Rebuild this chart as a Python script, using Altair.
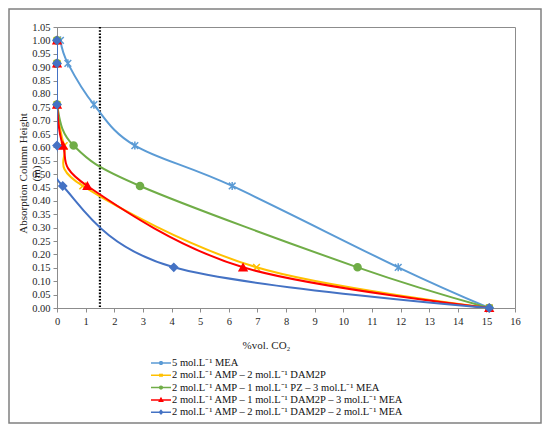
import altair as alt
import pandas as pd

# ---- data ----
names = [
    "5 mol.L⁻¹ MEA",
    "2 mol.L⁻¹ AMP – 2 mol.L⁻¹ DAM2P",
    "2 mol.L⁻¹ AMP – 1 mol.L⁻¹ PZ – 3 mol.L⁻¹ MEA",
    "2 mol.L⁻¹ AMP – 1 mol.L⁻¹ DAM2P – 3 mol.L⁻¹ MEA",
    "2 mol.L⁻¹ AMP – 2 mol.L⁻¹ DAM2P – 2 mol.L⁻¹ MEA",
]
heights = [1.0, 0.914, 0.76, 0.607, 0.456, 0.152, 0.0]
co2_mea = [0.12, 0.38, 1.29, 2.72, 6.12, 11.92, 15.1]
co2_amp_dam2p = [0.0, 0.0, 0.0, 0.25, 0.9, 6.97, 15.1]
co2_amp_pz_mea = [0.0, 0.0, 0.0, 0.58, 2.9, 10.5, 15.1]
co2_amp_dam2p_3mea = [0.0, 0.0, 0.0, 0.21, 1.06, 6.5, 15.1]
co2_amp_dam2p_2mea = [0.0, 0.0, 0.0, 0.0, 0.2, 4.08, 15.1]
threshold = [1.5]
x_ticks = list(range(0, 17))
y_ticks = [round(i * 0.05, 2) for i in range(22)]

series_x = [co2_mea, co2_amp_dam2p, co2_amp_pz_mea, co2_amp_dam2p_3mea, co2_amp_dam2p_2mea]

# ---- styles ----
colors = ["#5B9BD5", "#FFC000", "#70AD47", "#FF0000", "#4472C4"]
fills = ["transparent", "transparent", "#70AD47", "#FF0000", "#4472C4"]
plot_shapes = [
    "M-1,-1L1,1M1,-1L-1,1M0,-1.2L0,1.2",
    "M-1,-1L1,1M1,-1L-1,1",
    "circle",
    "triangle-up",
    "diamond",
]
plot_sizes = [45, 45, 50, 60, 60]
plot_filled = [False, False, True, True, True]
legend_paths = [
    "M-2,0H2M-0.3,-0.3L0.3,0.3M0.3,-0.3L-0.3,0.3M0,-0.38V0.38",
    "M-2,0H2M-0.3,-0.3L0.3,0.3M0.3,-0.3L-0.3,0.3",
    "M-2,0H2M0.28,0A0.28,0.28 0 1,1 -0.28,0A0.28,0.28 0 1,1 0.28,0Z",
    "M-2,0H2M0,-0.32L0.32,0.26L-0.32,0.26Z",
    "M-2,0H2M0,-0.34L0.3,0L0,0.34L-0.3,0Z",
]

FONT = "Liberation Serif"
W, H = 458, 281

xs = alt.X("co2:Q", scale=alt.Scale(domain=[0, 16], nice=False),
           axis=alt.Axis(values=x_ticks, format="d", title="%vol. CO₂",
                         titleX=209, titleY=37, titleBaseline="middle"))
ys = alt.Y("h:Q", scale=alt.Scale(domain=[0, 1.05], nice=False),
           axis=alt.Axis(values=y_ticks, format=".2f",
                         title=["Absorption Column Height", "(m)"],
                         titleX=-34, titleY=146, titleBaseline="middle",
                         titleAngle=270))

layers = []
for i, name in enumerate(names):
    df = pd.DataFrame({"co2": series_x[i], "h": heights, "i": list(range(len(heights)))})
    line = alt.Chart(df).mark_line(
        interpolate="cardinal", tension=0, color=colors[i], strokeWidth=2, clip=True
    ).encode(x=xs, y=ys, order=alt.Order("i:Q"))
    pts = alt.Chart(df).mark_point(
        shape=plot_shapes[i], size=plot_sizes[i], stroke=colors[i],
        fill=fills[i], filled=plot_filled[i], strokeWidth=1.5, opacity=1,
    ).encode(x=xs, y=ys)
    layers += [line, pts]

rule = alt.Chart(pd.DataFrame({"co2": threshold})).mark_rule(
    color="black", strokeWidth=2.2, strokeDash=[1.6, 1.6]
).encode(x=xs)

leg = alt.Legend(title=None, orient="none", legendX=98, legendY=330,
                 symbolSize=100, symbolStrokeWidth=1.5, symbolOpacity=1,
                 labelFont=FONT, labelFontSize=10.5, labelColor="#111",
                 labelOffset=5, labelLimit=500, rowPadding=0.3, padding=0,
                 symbolOffset=0)
legend_layer = alt.Chart(pd.DataFrame({"series": names})).mark_point(opacity=0).encode(
    shape=alt.Shape("series:N", scale=alt.Scale(domain=names, range=legend_paths), legend=leg),
    stroke=alt.Stroke("series:N", scale=alt.Scale(domain=names, range=colors), legend=leg),
    fill=alt.Fill("series:N", scale=alt.Scale(domain=names, range=fills), legend=leg),
)

frame = alt.Chart(pd.DataFrame({"a": [0]})).mark_rect(
    filled=False, stroke="#808080", strokeWidth=1.5
).encode(x=alt.value(-48), x2=alt.value(484), y=alt.value(-18), y2=alt.value(396))

chart = alt.layer(rule, *layers, legend_layer, frame).properties(
    width=W, height=H,
    autosize=alt.AutoSizeParams(type="none"),
    padding={"left": 49, "top": 19, "right": 27, "bottom": 116},
).configure_view(stroke="#8c8c8c", strokeWidth=1).configure_axis(
    grid=False, domainColor="#8c8c8c", tickColor="#8c8c8c", tickSize=4,
    labelFont=FONT, labelFontSize=10.5, labelColor="#262626", labelPadding=3,
    titleFont=FONT, titleFontSize=11, titleFontWeight="normal", titleColor="#262626",
    labelFlush=False, labelOverlap=False,
).configure_axisX(labelPadding=4)

chart.save("out.html", embed_options={"renderer": "svg", "actions": False})
